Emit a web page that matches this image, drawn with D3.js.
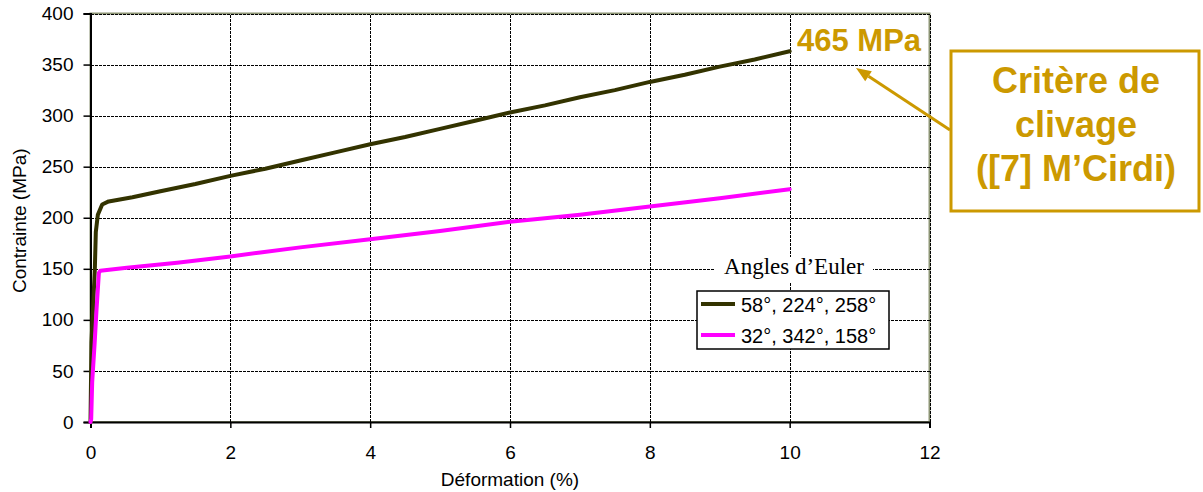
<!DOCTYPE html>
<html>
<head>
<meta charset="utf-8">
<script src="https://cdn.jsdelivr.net/npm/d3@7"></script>
<style>
  html, body { margin: 0; padding: 0; background: #fff; }
  svg { display: block; font-family: "Liberation Sans", Arial, sans-serif; }
</style>
</head>
<body>
<svg id="chart" width="1203" height="492"></svg>
<script>
// Stress-strain curves for two grain orientations (Euler angles)
const strainA = [0, 0.014, 0.062, 0.076, 0.105, 0.167, 0.26, 0.6, 1.0, 1.5, 2.0, 2.5, 3.0, 3.5, 4.0, 4.5, 5.0, 5.5, 6.0, 6.5, 7.0, 7.5, 8.0, 8.5, 9.0, 9.5, 10.0];
const stressA = [0, 78, 150, 186, 203, 213, 216, 220, 226, 233, 241, 248, 256, 264, 272, 279, 287, 295, 303, 310, 318, 325, 333, 340, 348, 355, 363];

const strainB = [0, 0.01, 0.024, 0.06, 0.086, 0.12, 0.14, 0.52, 1.24, 2.0, 2.43, 3.0, 4.0, 5.0, 6.0, 7.0, 8.0, 9.0, 10.0];
const stressB = [0, 3, 39, 78, 110, 146, 148, 151, 156, 162, 166, 171, 179, 187, 196, 203, 211, 219, 228];

const seriesNames = ["58°, 224°, 258°", "32°, 342°, 158°"];
const seriesColors = ["#333300", "#ff00ff"];
const legendTitle = "Angles d\u2019Euler";

const xTicks = [0, 2, 4, 6, 8, 10, 12];
const yTicks = [0, 50, 100, 150, 200, 250, 300, 350, 400];
const xTitle = "Déformation (%)";
const yTitle = "Contrainte (MPa)";

const peakLabel = "465 MPa";
const noteLines = ["Critère de", "clivage", "([7] M\u2019Cirdi)"];
const gold = "#cc9900";

const svg = d3.select("#chart");
const x = d3.scaleLinear().domain([0, 12]).range([90.5, 929.5]);
const y = d3.scaleLinear().domain([0, 400]).range([422, 13.5]);

// plot frame
svg.append("rect")
  .attr("x", x(0)).attr("y", y(400))
  .attr("width", x(12) - x(0)).attr("height", y(0) - y(400))
  .attr("fill", "#fff").attr("stroke", "#8c9474").attr("stroke-width", 2);

// dashed grid
const grid = svg.append("g").attr("stroke", "#000").attr("stroke-width", 1)
  .attr("stroke-dasharray", "3,1").attr("shape-rendering", "crispEdges");
grid.selectAll("line.h").data(yTicks.filter(d => d > 0)).join("line")
  .attr("x1", x(0)).attr("x2", x(12)).attr("y1", d => Math.round(y(d)) + 0.5).attr("y2", d => Math.round(y(d)) + 0.5);
grid.selectAll("line.v").data(xTicks.filter(d => d > 0)).join("line")
  .attr("y1", y(0)).attr("y2", y(400)).attr("x1", d => Math.round(x(d)) + 0.5).attr("x2", d => Math.round(x(d)) + 0.5);

// axes
const xAxis = svg.append("g").attr("transform", `translate(0,${y(0)})`)
  .call(d3.axisBottom(x).tickValues(xTicks).tickSize(6).tickPadding(18).tickFormat(d3.format("d")));
const yAxis = svg.append("g").attr("transform", `translate(${x(0)},0)`)
  .call(d3.axisLeft(y).tickValues(yTicks).tickSize(7).tickPadding(10).tickFormat(d3.format("d")));
[xAxis, yAxis].forEach(g => {
  g.select(".domain").attr("stroke", "#000").attr("stroke-width", 2);
  g.selectAll(".tick line").attr("stroke", "#000").attr("stroke-width", 1.5);
  g.selectAll(".tick text").attr("fill", "#000").attr("font-size", 19)
    .attr("font-family", "'Liberation Sans', Arial, sans-serif");
});

// axis titles
svg.append("text").attr("x", (x(0) + x(12)) / 2).attr("y", 486)
  .attr("text-anchor", "middle").attr("font-size", 19).text(xTitle);
svg.append("text").attr("transform", `translate(26,${(y(0) + y(400)) / 2 + 3}) rotate(-90)`)
  .attr("text-anchor", "middle").attr("font-size", 19).text(yTitle);

// curves
const line = d3.line().x(d => x(d[0])).y(d => y(d[1]));
const curves = [d3.zip(strainA, stressA), d3.zip(strainB, stressB)];
svg.append("g").selectAll("path").data(curves).join("path")
  .attr("d", line).attr("fill", "none")
  .attr("stroke", (d, i) => seriesColors[i]).attr("stroke-width", 4)
  .attr("stroke-linejoin", "round").attr("stroke-linecap", "round");

// legend
const lg = svg.append("g");
lg.append("rect").attr("x", 715).attr("y", 257).attr("width", 158).attr("height", 26).attr("fill", "#fff");
lg.append("text").attr("x", 794).attr("y", 274).attr("text-anchor", "middle")
  .style("font-family", "'Liberation Serif', 'Times New Roman', serif").attr("font-size", 23)
  .text(legendTitle);
lg.append("rect").attr("x", 697).attr("y", 291).attr("width", 192).attr("height", 58)
  .attr("fill", "#fff").attr("stroke", "#000").attr("stroke-width", 1.5);
seriesNames.forEach((name, i) => {
  const cy = 304 + i * 31;
  lg.append("line").attr("x1", 701).attr("x2", 735).attr("y1", cy).attr("y2", cy)
    .attr("stroke", seriesColors[i]).attr("stroke-width", 4);
  lg.append("text").attr("x", 741).attr("y", cy + 8).attr("font-size", 20).text(name);
});

// peak annotation and cleavage criterion note
svg.append("text").attr("x", 797).attr("y", 51).attr("font-size", 31).attr("font-weight", "bold")
  .attr("fill", gold).text(peakLabel);

svg.append("rect").attr("x", 951).attr("y", 51).attr("width", 248).attr("height", 160)
  .attr("fill", "#fff").attr("stroke", gold).attr("stroke-width", 3);
svg.append("g").selectAll("text").data(noteLines).join("text")
  .attr("x", 1076).attr("y", (d, i) => 93 + i * 44).attr("text-anchor", "middle")
  .attr("font-size", 36).attr("font-weight", "bold").attr("fill", gold).text(d => d);

// arrow from the note box to the peak label
const a0 = [950, 130], a1 = [856, 68];
const ang = Math.atan2(a1[1] - a0[1], a1[0] - a0[0]);
const headLen = 15, headHalf = 6;
const base = [a1[0] - headLen * Math.cos(ang), a1[1] - headLen * Math.sin(ang)];
svg.append("line").attr("x1", a0[0]).attr("y1", a0[1]).attr("x2", base[0]).attr("y2", base[1])
  .attr("stroke", gold).attr("stroke-width", 3);
svg.append("path")
  .attr("d", `M${a1[0]},${a1[1]}L${base[0] - headHalf * Math.sin(ang)},${base[1] + headHalf * Math.cos(ang)}` +
             `L${base[0] + headHalf * Math.sin(ang)},${base[1] - headHalf * Math.cos(ang)}Z`)
  .attr("fill", gold);
</script>
</body>
</html>
